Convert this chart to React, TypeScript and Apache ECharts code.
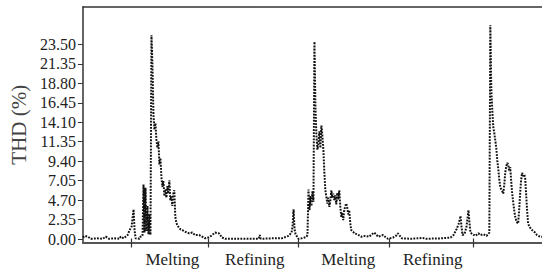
import React, { useEffect, useRef } from "react";
import * as echarts from "echarts";

// sample index (arbitrary time units) and THD values
const sampleIndex = [
  0, 2, 5, 8, 14, 20, 23, 26, 32, 37, 38, 41, 45, 47, 49, 50, 51, 52, 53, 57, 58, 60,
  61, 62, 63, 64, 65, 66, 67, 68, 69, 70, 71, 72, 73, 74, 75, 76, 77, 78, 79, 80,
  81, 82, 83, 84, 85, 86, 87, 88, 89, 90, 91, 92, 93, 94, 95, 96, 98, 100, 103, 107,
  110, 113, 117, 120, 123, 126, 129, 133, 137, 140, 143, 150, 160, 177, 178, 179, 190, 200,
  207, 210, 211, 212, 213, 214, 217, 220, 223, 225, 226, 227, 228, 229, 230, 231, 232, 233,
  234, 235, 236, 237, 238, 239, 240, 241, 242, 243, 244, 245, 246, 247, 248, 249, 250, 251,
  252, 253, 254, 255, 256, 257, 258, 259, 260, 261, 262, 263, 264, 265, 266, 267, 268, 269,
  270, 272, 273, 276, 280, 284, 288, 293, 295, 297, 300, 302, 305, 307, 312, 315, 317, 319,
  321, 330, 342, 345, 360, 370, 373, 376, 378, 380, 381, 382, 384, 386, 388, 389, 390, 392,
  395, 398, 400, 403, 406, 408, 409, 410, 411, 412, 413, 414, 415, 416, 417, 418, 419, 420,
  421, 422, 423, 424, 425, 426, 427, 428, 429, 430, 431, 432, 433, 434, 435, 436, 437, 438,
  439, 440, 441, 442, 443, 444, 445, 446, 447, 448, 449, 450, 452, 455, 457, 460, 462,
];
const thdValues = [
  0.2, 0.4, 0.3, 0.05, 0.1, 0.05, 0.3, 0.05, 0.1, 0.05, 0.3, 0.1, 0.5, 1.1, 1.5, 2.6, 3.6, 1.1, 0.1, 0.05, 0.3, 0.4,
  6.6, 0.8, 6.2, 1.0, 4.0, 0.6, 3.0, 0.5, 24.6, 21.0, 15.0, 13.2, 14.0, 12.0, 11.0, 11.8, 9.0, 9.8, 7.5, 6.3,
  7.0, 5.2, 6.0, 5.0, 6.4, 5.5, 7.1, 4.7, 5.2, 4.0, 5.5, 5.9, 2.7, 2.0, 1.7, 1.5, 1.2, 1.1, 0.9, 0.7,
  0.8, 0.5, 0.5, 0.3, 0.1, 0.2, 0.4, 0.8, 0.7, 0.2, 0.05, 0.05, 0.05, 0.05, 0.5, 0.05, 0.1, 0.1,
  0.4, 0.8, 1.6, 3.6, 1.2, 0.6, 0.05, 0.1, 0.2, 0.3, 0.5, 6.0, 3.5, 5.2, 4.0, 5.8, 4.5, 23.8,
  16.0, 12.5, 10.8, 11.5, 13.0, 11.0, 13.7, 12.5, 10.8, 8.0, 5.9, 5.1, 4.3, 5.0, 3.9, 4.6, 5.9, 5.0,
  5.5, 4.7, 5.3, 4.2, 5.6, 4.8, 5.9, 4.0, 2.7, 3.2, 2.3, 3.5, 4.0, 4.3, 3.8, 3.0, 3.5, 2.0,
  1.1, 0.9, 0.7, 0.6, 0.3, 0.4, 0.3, 0.8, 0.6, 0.3, 0.4, 0.5, 0.2, 0.05, 0.2, 0.4, 0.7, 0.4,
  0.1, 0.05, 0.15, 0.05, 0.1, 0.2, 0.5, 1.2, 1.8, 2.8, 1.5, 0.5, 0.6, 1.5, 3.5, 2.0, 0.8, 0.6,
  0.4, 0.7, 0.5, 0.6, 0.4, 0.6, 0.8, 25.8, 18.0, 15.5, 13.5, 12.8, 11.9, 11.0, 9.5, 8.5, 7.2, 6.3,
  6.0, 5.8, 5.5, 6.5, 8.0, 8.8, 9.2, 9.0, 8.2, 8.7, 7.0, 5.5, 4.5, 3.5, 2.7, 2.3, 2.0, 1.9,
  3.5, 5.5, 7.2, 8.0, 7.6, 7.8, 7.5, 5.5, 3.5, 1.9, 1.6, 1.4, 1.1, 0.8, 0.5, 0.3, 0.3,
];

const yTickValues = [0, 2.35, 4.7, 7.05, 9.4, 11.75, 14.1, 16.45, 18.8, 21.15, 23.5];
const yTickLabels = ["0.00", "2.35", "4.70", "7.05", "9.40", "11.35", "14.10", "16.45", "18.80", "21.35", "23.50"];

const phaseBoundaries = [49, 126, 217, 308, 393];
const phaseLabelPositions = [90, 173, 267, 352];
const phaseLabels = ["Melting", "Refining", "Melting", "Refining"];

const SERIF = "Liberation Serif";

export default function App() {
  const ref = useRef<HTMLDivElement>(null);

  useEffect(() => {
    if (!ref.current) return;
    const chart = echarts.init(ref.current, undefined, { renderer: "svg" });
    const data = sampleIndex.map((t, i) => [t, thdValues[i]]);
    chart.setOption({
      animation: false,
      backgroundColor: "#ffffff",
      textStyle: { fontFamily: SERIF },
      grid: { left: 80, right: 0, top: 7, bottom: 29.5, containLabel: false },
      xAxis: [
        {
          type: "value",
          position: "bottom",
          min: 0,
          max: 462,
          axisLine: { show: true, onZero: false, lineStyle: { color: "#555", width: 2 } },
          axisTick: {
            show: true,
            customValues: phaseBoundaries,
            length: 5,
            lineStyle: { color: "#333", width: 1.2 },
          },
          axisLabel: {
            show: true,
            customValues: phaseLabelPositions,
            formatter: (v: number) => {
              const i = phaseLabelPositions.indexOf(v);
              return i >= 0 ? phaseLabels[i] : "";
            },
            margin: 8,
            color: "#222",
            fontFamily: SERIF,
            fontSize: 17,
          },
          splitLine: { show: false },
        },
        {
          type: "value",
          position: "bottom",
          min: 0,
          max: 462,
          axisLine: { show: false, onZero: false },
          axisTick: {
            show: true,
            inside: true,
            customValues: phaseBoundaries,
            length: 4,
            lineStyle: { color: "#333", width: 1.2 },
          },
          axisLabel: { show: false },
          splitLine: { show: false },
        },
        {
          type: "value",
          position: "top",
          min: 0,
          max: 462,
          axisLine: { show: true, onZero: false, lineStyle: { color: "#333", width: 1.5 } },
          axisTick: { show: false },
          axisLabel: { show: false },
          splitLine: { show: false },
        },
      ],
      yAxis: {
        type: "value",
        min: -0.4,
        max: 28,
        name: "THD (%)",
        nameLocation: "middle",
        nameGap: 53,
        nameTextStyle: { fontFamily: SERIF, fontSize: 21, color: "#444" },
        axisLine: { show: true, onZero: false, lineStyle: { color: "#333", width: 1.5 } },
        axisTick: {
          show: true,
          customValues: yTickValues,
          length: 5,
          lineStyle: { color: "#333", width: 1 },
        },
        axisLabel: {
          show: true,
          customValues: yTickValues,
          formatter: (v: number) => {
            const i = yTickValues.findIndex((x) => Math.abs(x - v) < 1e-6);
            return i >= 0 ? yTickLabels[i] : "";
          },
          margin: 7,
          color: "#222",
          fontFamily: SERIF,
          fontSize: 16,
        },
        splitLine: { show: false },
      },
      series: [
        {
          type: "line",
          xAxisIndex: 0,
          data,
          symbol: "none",
          lineStyle: { color: "#111", width: 2, type: [1.8, 1.3] },
        },
      ],
    });
    return () => chart.dispose();
  }, []);

  return (
    <div
      ref={ref}
      style={{ position: "absolute", left: 0, top: 0, width: 542, height: 272 }}
    />
  );
}
